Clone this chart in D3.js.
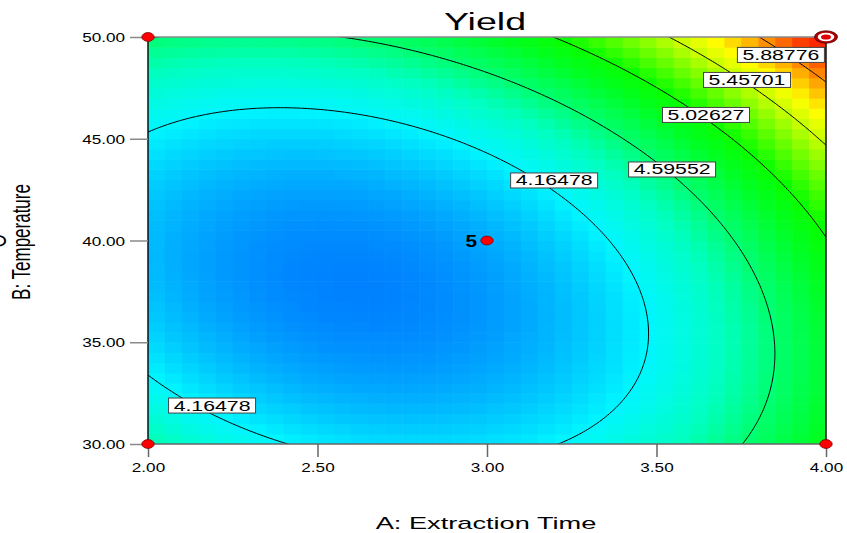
<!DOCTYPE html>
<html><head><meta charset="utf-8">
<script src="https://cdn.jsdelivr.net/npm/d3@7"></script>
<style>
body{margin:0;background:#fff}
svg{display:block}
text{font-family:"Liberation Sans",Arial,sans-serif;fill:#000}
</style>
</head><body>
<svg id="chart" width="847" height="533"></svg>
<script>
// ---------------- data ----------------
const chartTitle = "Yield";
const xAxisTitle = "A: Extraction Time";
const yAxisTitle = "B: Temperature";
const xTicks = [2.0, 2.5, 3.0, 3.5, 4.0];
const yTicks = [30, 35, 40, 45, 50];
const xDomain = [2, 4];
const yDomain = [30, 50];
// quadratic response model in coded factors a=(A-3), b=(B-40)/10
// terms: [intercept, a, b, ab, a^2, b^2]
const modelCoefficients = [3.8988, 0.5253, 0.3752, 0.3024, 0.5912, 0.5681];
const contourLevels = [4.16478, 4.59552, 5.02627, 5.45701, 5.88776];
// where each contour label sits (data units)
const contourLabelLevels = [5.88776, 5.45701, 5.02627, 4.59552, 4.16478, 4.16478];
const contourLabelA = [3.867, 3.767, 3.646, 3.546, 3.198, 2.189];
const contourLabelB = [49.12, 47.89, 46.17, 43.49, 42.95, 31.89];
// design points
const pointA = [2, 2, 4, 4, 3];
const pointB = [30, 50, 30, 50, 40];
const pointCount = [1, 1, 1, 1, 5];
const pointHighlight = [false, false, false, true, false];
// colour ramp of the response
const colorValues = [3.75, 4.16, 4.40, 4.60, 4.85, 5.03, 5.30, 5.46, 5.62, 5.85, 6.12];
const colorList = ["#0080ff", "#00f6ff", "#00ffc0", "#00ff70", "#00ff24", "#08ff00", "#80ff00", "#c8ff00", "#ffff00", "#ffa000", "#ff2800"];

// ---------------- layout ----------------
const svg = d3.select("#chart");
const plot = {left: 148, right: 826, top: 37, bottom: 444};
const x = d3.scaleLinear().domain(xDomain).range([plot.left, plot.right]);
const y = d3.scaleLinear().domain(yDomain).range([plot.bottom, plot.top]);
const color = d3.scaleLinear().domain(colorValues).range(colorList).clamp(true);

function model(A, B) {
  const a = A - 3, b = (B - 40) / 10, c = modelCoefficients;
  return c[0] + c[1]*a + c[2]*b + c[3]*a*b + c[4]*a*a + c[5]*b*b;
}

svg.append("defs").append("clipPath").attr("id", "plotclip")
  .append("rect").attr("x", plot.left).attr("y", plot.top)
  .attr("width", plot.right - plot.left).attr("height", plot.bottom - plot.top);

// ---------------- heat map cells ----------------
const nCols = 40, nRows = 40;
const cells = [];
for (let j = 0; j < nRows; j++) for (let i = 0; i < nCols; i++) {
  const A0 = xDomain[0] + i * (xDomain[1]-xDomain[0]) / nCols;
  const A1 = xDomain[0] + (i+1) * (xDomain[1]-xDomain[0]) / nCols;
  const B0 = yDomain[0] + j * (yDomain[1]-yDomain[0]) / nRows;
  const B1 = yDomain[0] + (j+1) * (yDomain[1]-yDomain[0]) / nRows;
  cells.push({A0, A1, B0, B1, v: model((A0+A1)/2, (B0+B1)/2)});
}
svg.append("g").attr("clip-path", "url(#plotclip)").selectAll("rect").data(cells).join("rect")
  .attr("x", d => x(d.A0)).attr("y", d => y(d.B1))
  .attr("width", d => x(d.A1) - x(d.A0) + 0.6)
  .attr("height", d => y(d.B0) - y(d.B1) + 0.6)
  .attr("fill", d => color(d.v));

// ---------------- contour lines ----------------
const gN = 221, gA0 = 1.9, gA1 = 4.1, gB0 = 29, gB1 = 51;
const dA = (gA1 - gA0) / (gN - 1), dB = (gB1 - gB0) / (gN - 1);
const grid = new Array(gN * gN);
for (let j = 0; j < gN; j++) for (let i = 0; i < gN; i++) grid[i + j*gN] = model(gA0 + i*dA, gB0 + j*dB);
const contours = d3.contours().size([gN, gN]).thresholds(contourLevels)(grid);
const proj = d3.geoTransform({point: function(px, py) {
  this.stream.point(x(gA0 + (px - 0.5) * dA), y(gB0 + (py - 0.5) * dB));
}});
const path = d3.geoPath(proj);
svg.append("g").attr("clip-path", "url(#plotclip)").selectAll("path").data(contours).join("path")
  .attr("d", path).attr("fill", "none").attr("stroke", "#000").attr("stroke-width", 1);

// ---------------- helpers ----------------
function stext(g, px, py, str, size, sx, anchor, weight) {
  return g.append("text")
    .attr("transform", `translate(${px},${py}) scale(${sx},1)`)
    .attr("text-anchor", anchor || "middle")
    .attr("font-size", size)
    .attr("font-weight", weight || "normal")
    .text(str);
}

// ---------------- frame ----------------
const frame = svg.append("g");
frame.append("line").attr("x1", plot.left).attr("x2", plot.right).attr("y1", plot.top).attr("y2", plot.top)
  .attr("stroke", "#8a8a8a").attr("stroke-width", 1.5);
frame.append("line").attr("x1", plot.left).attr("x2", plot.right).attr("y1", plot.bottom).attr("y2", plot.bottom)
  .attr("stroke", "#666").attr("stroke-width", 1.5);
frame.append("line").attr("x1", plot.left).attr("x2", plot.left).attr("y1", plot.top).attr("y2", plot.bottom)
  .attr("stroke", "#111").attr("stroke-width", 1.5);
frame.append("line").attr("x1", plot.right).attr("x2", plot.right).attr("y1", plot.top).attr("y2", plot.bottom)
  .attr("stroke", "#111").attr("stroke-width", 1.5);

// ---------------- axes ----------------
const tickSX = 1.37;
const xAxis = svg.append("g").attr("transform", `translate(0,${plot.bottom})`)
  .call(d3.axisBottom(x).tickValues(xTicks).tickFormat(d3.format(".2f")).tickSize(13).tickPadding(4));
xAxis.select(".domain").remove();
xAxis.selectAll(".tick line").attr("stroke", "#666").attr("stroke-width", 1.5);
xAxis.selectAll(".tick text").attr("font-size", 12.5).attr("font-family", "Liberation Sans, Arial, sans-serif")
  .attr("y", 28).attr("dy", 0).attr("transform", `scale(${tickSX},1)`);

const yAxis = svg.append("g").attr("transform", `translate(${plot.left},0)`)
  .call(d3.axisLeft(y).tickValues(yTicks).tickFormat(d3.format(".2f")).tickSize(18));
yAxis.select(".domain").remove();
yAxis.selectAll(".tick line").attr("stroke", "#8a8a8a").attr("stroke-width", 1.5);
yAxis.selectAll(".tick text").attr("font-size", 12.5).attr("font-family", "Liberation Sans, Arial, sans-serif")
  .attr("x", -23 / tickSX).attr("dy", "0.36em").attr("transform", `scale(${tickSX},1)`);

// ---------------- titles ----------------
stext(svg, 485, 30, chartTitle, 23.5, 1.6, "middle");
stext(svg, 486, 529, xAxisTitle, 17, 1.6, "middle");
svg.append("text").attr("transform", "translate(30,242) scale(1.5,1) rotate(-90)")
  .attr("text-anchor", "middle").attr("font-size", 17).text(yAxisTitle);
svg.append("text").attr("transform", "translate(6,241) scale(1.5,1) rotate(-90)")
  .attr("text-anchor", "middle").attr("font-size", 17).text("O");

// ---------------- contour labels ----------------
const labG = svg.append("g");
contourLabelLevels.forEach((lv, k) => {
  const cx = x(contourLabelA[k]), cy = y(contourLabelB[k]);
  labG.append("rect").attr("x", cx - 43.5).attr("y", cy - 7.5).attr("width", 87).attr("height", 15)
    .attr("fill", "#fff").attr("stroke", "#444").attr("stroke-width", 1);
  stext(labG, cx, cy + 5, d3.format(".5f")(lv).replace(/0+$/, ""), 14, 1.52, "middle");
});

// ---------------- design points ----------------
const ptG = svg.append("g");
pointA.forEach((a, k) => {
  const px = x(a), py = y(pointB[k]);
  if (pointHighlight[k]) {
    ptG.append("ellipse").attr("cx", px).attr("cy", py).attr("rx", 11.5).attr("ry", 6.2).attr("fill", "#b00000").attr("stroke", "#500").attr("stroke-width", 0.8);
    ptG.append("ellipse").attr("cx", px).attr("cy", py).attr("rx", 8.3).attr("ry", 4.2).attr("fill", "#fff");
    ptG.append("ellipse").attr("cx", px).attr("cy", py).attr("rx", 5).attr("ry", 2.6).attr("fill", "#e00000");
  } else {
    ptG.append("ellipse").attr("cx", px).attr("cy", py).attr("rx", 6.2).attr("ry", 4.4)
      .attr("fill", "#ff0000").attr("stroke", "#700").attr("stroke-width", 0.8);
  }
  if (pointCount[k] > 1) {
    stext(ptG, px - 10, py + 6, String(pointCount[k]), 16, 1.3, "end", "bold");
  }
});
</script>
</body></html>
